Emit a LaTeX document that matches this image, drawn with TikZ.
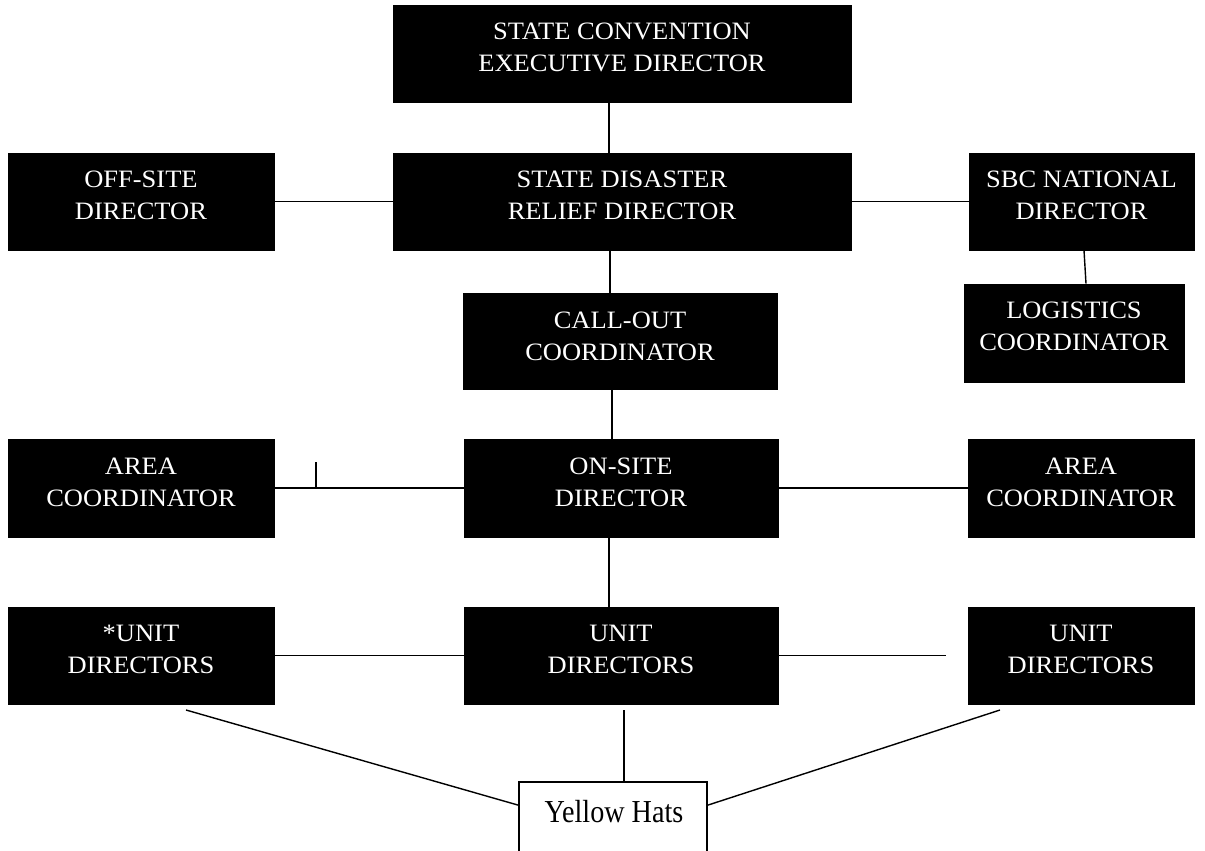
\documentclass[tikz,border=0pt]{standalone}
\usepackage{fontspec}
\setmainfont{Liberation Serif}
\newfontfamily\boxfont[FakeStretch=1.06]{Liberation Serif}
\newfontfamily\hatfont[FakeStretch=0.88]{Liberation Serif}
\tikzset{
  box/.style={fill=black, draw=black, line width=0.6pt, inner sep=0pt, minimum height=97pt},
  lbl/.style={text=white, font=\boxfont\fontsize{25}{32}\selectfont, align=center, inner sep=0pt, anchor=north},
  conn/.style={line width=1.4pt, draw=black},
  hat/.style={draw=black, fill=white, line width=1.8pt, inner sep=0pt},
}
\begin{document}
\begin{tikzpicture}[x=1pt,y=-1pt]
\useasboundingbox (0,0) rectangle (1205,851);
\clip (0,0) rectangle (1205,851);
% boxes
\node[box, minimum width=458pt] (sced) at (622,53.5) {};
\node[lbl] (scedt) at ([yshift=-18.5pt]sced.north) {STATE CONVENTION\\EXECUTIVE DIRECTOR};
\node[box, minimum width=266pt] (off) at (141,201.5) {};
\node[lbl] (offt) at ([yshift=-18.5pt]off.north) {OFF-SITE\\DIRECTOR};
\node[box, minimum width=458pt] (sdr) at (622,201.5) {};
\node[lbl] (sdrt) at ([yshift=-18.5pt]sdr.north) {STATE DISASTER\\RELIEF DIRECTOR};
\node[box, minimum width=225pt] (sbc) at (1081.5,201.5) {};
\node[lbl] (sbct) at ([yshift=-18.5pt]sbc.north) {SBC NATIONAL\\DIRECTOR};
\node[box, minimum width=314pt, minimum height=96pt] (call) at (620,341) {};
\node[lbl] (callt) at ([yshift=-19pt]call.north) {CALL-OUT\\COORDINATOR};
\node[box, minimum width=220pt, minimum height=98pt] (log) at (1074,333) {};
\node[lbl] (logt) at ([yshift=-18.5pt]log.north) {LOGISTICS\\COORDINATOR};
\node[box, minimum width=266pt, minimum height=98pt] (areaL) at (141,488) {};
\node[lbl] (areaLt) at ([yshift=-19.5pt]areaL.north) {AREA\\COORDINATOR};
\node[box, minimum width=314pt, minimum height=98pt] (onsite) at (621,488) {};
\node[lbl] (onsitet) at ([yshift=-19.5pt]onsite.north) {ON-SITE\\DIRECTOR};
\node[box, minimum width=226pt, minimum height=98pt] (areaR) at (1081,488) {};
\node[lbl] (areaRt) at ([yshift=-19.5pt]areaR.north) {AREA\\COORDINATOR};
\node[box, minimum width=266pt] (unitL) at (141,655.5) {};
\node[lbl] (unitLt) at ([yshift=-18.5pt]unitL.north) {*UNIT\\DIRECTORS};
\node[box, minimum width=314pt] (unitC) at (621,655.5) {};
\node[lbl] (unitCt) at ([yshift=-18.5pt]unitC.north) {UNIT\\DIRECTORS};
\node[box, minimum width=226pt] (unitR) at (1081,655.5) {};
\node[lbl] (unitRt) at ([yshift=-18.5pt]unitR.north) {UNIT\\DIRECTORS};
\node[hat, minimum width=188pt, minimum height=118pt] (yh) at (613,841) {};
\node[anchor=base, inner sep=0pt, font=\hatfont\fontsize{32}{38}\selectfont] (yht) at ([xshift=1pt,yshift=-41.3pt]yh.north) {Yellow Hats};
% connectors
\draw[conn] ([xshift=-13pt]sced.south) -- ([xshift=-13pt]sdr.north);
\draw[conn] (off.east) -- (sdr.west);
\draw[conn] (sdr.east) -- (sbc.west);
\draw[conn] ([xshift=-12pt]sdr.south) -- ([xshift=-10pt]call.north);
\draw[conn] ([xshift=2.5pt]sbc.south) -- ([xshift=12pt]log.north);
\draw[conn] ([xshift=-8pt]call.south) -- ([xshift=-9pt]onsite.north);
\draw[conn] (areaL.east) -- (onsite.west);
\coordinate (tick) at (316,462);
\draw[conn] (tick) -- (tick |- areaL.east);
\draw[conn] (onsite.east) -- (areaR.west);
\draw[conn] ([xshift=-12pt]onsite.south) -- ([xshift=-12pt]unitC.north);
\draw[conn] (unitL.east) -- (unitC.west);
\coordinate (uRend) at (946,655.5);
\draw[conn] (unitC.east) -- (uRend);
\coordinate (uLb) at (186,710);
\draw[conn] (uLb) -- ([yshift=-24pt]yh.north west);
\coordinate (uCb) at (624,710);
\draw[conn] (uCb) -- (uCb |- yh.north);
\coordinate (uRb) at (1000,710);
\draw[conn] (uRb) -- ([yshift=-24pt]yh.north east);
\end{tikzpicture}
\end{document}
